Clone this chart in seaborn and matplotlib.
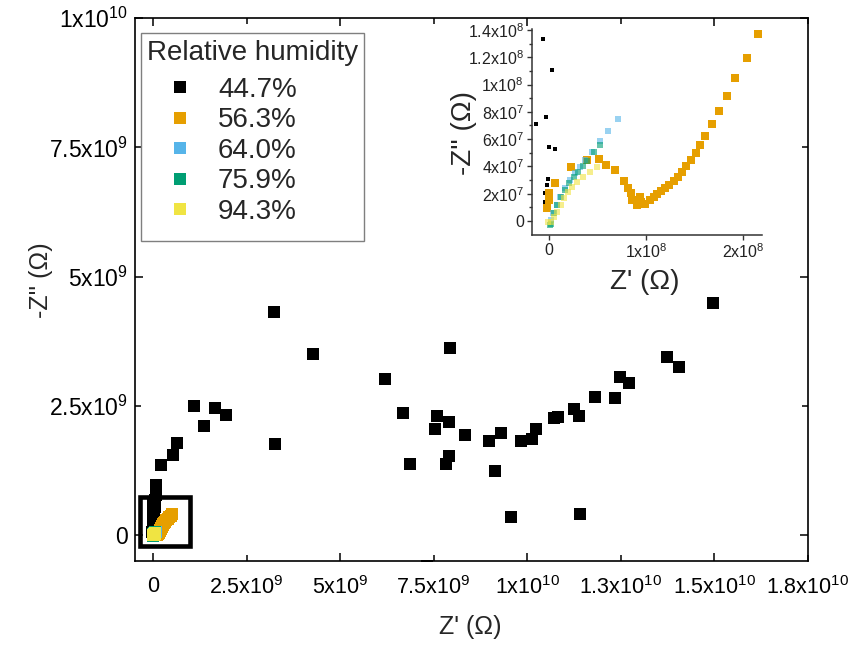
import numpy as np
import pandas as pd
import matplotlib
matplotlib.use("Agg")
import matplotlib.pyplot as plt
import seaborn as sns
from matplotlib.lines import Line2D
from matplotlib.patches import Rectangle
from matplotlib.ticker import FixedLocator, FixedFormatter, NullLocator

# ---------------- data ----------------
labels = ["44.7%", "56.3%", "64.0%", "75.9%", "94.3%"]
colors = ["#000000", "#E69F00", "#56B4E9", "#009E73", "#F0E442"]

# 44.7 % RH (black)
rh447_x = [3.23e9, 1.10e9, 1.66e9, 1.95e9, 1.36e9, 3.26e9, 0.64e9, 0.53e9, 0.22e9, 0.075e9,
           4.29e9, 7.95e9, 6.21e9, 6.67e9, 7.58e9, 7.90e9, 7.55e9, 8.33e9, 7.90e9, 6.88e9, 7.82e9,
           14.96e9, 13.73e9, 14.05e9, 12.47e9, 12.71e9, 11.81e9, 12.34e9, 11.25e9, 11.38e9,
           10.72e9, 10.82e9, 10.23e9, 10.12e9, 9.85e9, 9.30e9, 8.98e9, 9.14e9, 9.57e9, 11.41e9, 7.33e9,
           0.08e9, 0.07e9, 0.06e9, 0.0, 0.05e9, 0.01e9, 0.02e9, 0.0, 0.01e9, -0.01e9,
           -0.065e8, 0.027e8, -0.031e8, -0.137e8, 0.0, 0.062e8, -0.014e8, -0.024e8, -0.038e8, -0.041e8]
rh447_y = [4.32e9, 2.51e9, 2.47e9, 2.33e9, 2.12e9, 1.77e9, 1.78e9, 1.56e9, 1.37e9, 0.98e9,
           3.51e9, 3.62e9, 3.02e9, 2.36e9, 2.31e9, 2.19e9, 2.06e9, 1.94e9, 1.53e9, 1.38e9, 1.38e9,
           4.50e9, 3.45e9, 3.25e9, 3.06e9, 2.95e9, 2.68e9, 2.66e9, 2.45e9, 2.31e9,
           2.26e9, 2.28e9, 2.06e9, 1.86e9, 1.82e9, 1.98e9, 1.82e9, 1.24e9, 0.36e9, 0.41e9, -0.60e9,
           0.88e9, 0.78e9, 0.69e9, 0.62e9, 0.55e9, 0.47e9, 0.38e9, 0.29e9, 0.21e9, 0.16e9,
           13.34e7, 11.07e7, 7.65e7, 7.11e7, 5.42e7, 5.28e7, 3.10e7, 2.66e7, 2.05e7, 1.42e7]

# 56.3 % RH (orange)
rh563_x = [-0.024e8, 0.003e8, 0.003e8, 0.062e8, 0.223e8, 0.394e8, 0.511e8, 0.586e8, 0.679e8,
           0.772e8, 0.809e8, 0.840e8, 0.854e8, 0.936e8, 0.902e8, 0.943e8, 0.991e8, 1.039e8,
           1.080e8, 1.115e8, 1.156e8, 1.193e8, 1.238e8, 1.286e8, 1.327e8, 1.368e8, 1.406e8,
           1.461e8, 1.512e8, 1.560e8, 1.602e8, 1.677e8, 1.746e8, 1.831e8, 1.920e8, 2.034e8,
           2.154e8, 2.28e8, 2.43e8, 2.60e8, 2.80e8, 3.03e8, 3.30e8, 3.60e8, 3.95e8, 4.32e8,
           4.75e8, 5.20e8]
rh563_y = [0.93e7, 1.54e7, 2.03e7, 2.76e7, 3.93e7, 4.47e7, 4.52e7, 4.10e7, 3.74e7,
           2.96e7, 2.39e7, 2.03e7, 1.54e7, 1.78e7, 1.17e7, 1.39e7, 1.22e7, 1.51e7,
           1.73e7, 1.98e7, 2.17e7, 2.42e7, 2.66e7, 2.96e7, 3.25e7, 3.62e7, 4.03e7,
           4.47e7, 5.01e7, 5.57e7, 6.25e7, 7.11e7, 8.09e7, 9.16e7, 10.48e7, 11.97e7,
           13.70e7, 15.5e7, 17.4e7, 19.5e7, 21.7e7, 24.0e7, 26.5e7, 29.2e7, 32.0e7, 35.0e7,
           38.3e7, 41.8e7]

# 64.0 % RH (blue)
rh640_x = [0.017e8, 0.045e8, 0.079e8, 0.113e8, 0.165e8, 0.216e8, 0.267e8, 0.319e8,
           0.375e8, 0.439e8, 0.521e8, 0.604e8, 0.713e8]
rh640_y = [0.07e7, 0.56e7, 1.17e7, 1.78e7, 2.40e7, 3.00e7, 3.49e7, 3.98e7,
           4.50e7, 5.08e7, 5.86e7, 6.62e7, 7.45e7]

# 75.9 % RH (green)
rh759_x = [0.010e8, 0.017e8, 0.051e8, 0.086e8, 0.123e8, 0.165e8, 0.209e8, 0.257e8,
           0.302e8, 0.346e8, 0.394e8, 0.463e8, 0.525e8]
rh759_y = [-0.30e7, -0.22e7, 0.56e7, 1.17e7, 1.78e7, 2.27e7, 2.76e7, 3.25e7,
           3.62e7, 4.03e7, 4.42e7, 5.03e7, 5.57e7]

# 94.3 % RH (yellow)
rh943_x = [-0.007e8, 0.017e8, 0.051e8, 0.086e8, 0.120e8, 0.154e8, 0.192e8, 0.233e8,
           0.285e8, 0.346e8, 0.422e8, 0.497e8]
rh943_y = [-0.05e7, -0.05e7, 0.27e7, 0.68e7, 1.17e7, 1.66e7, 2.15e7, 2.52e7,
           2.88e7, 3.25e7, 3.62e7, 3.93e7]

series_x = [rh447_x, rh563_x, rh640_x, rh759_x, rh943_x]
series_y = [rh447_y, rh563_y, rh640_y, rh759_y, rh943_y]

main_xticks = [0, 2.5e9, 5e9, 7.5e9, 1e10, 1.25e10, 1.5e10, 1.75e10]
main_xticklabels = ["0", "2.5x10$^{9}$", "5x10$^{9}$", "7.5x10$^{9}$", "1x10$^{10}$",
                    "1.3x10$^{10}$", "1.5x10$^{10}$", "1.8x10$^{10}$"]
main_yticks = [0, 2.5e9, 5e9, 7.5e9, 1e10]
main_yticklabels = ["0", "2.5x10$^{9}$", "5x10$^{9}$", "7.5x10$^{9}$", "1x10$^{10}$"]
inset_xticks = [0, 1e8, 2e8]
inset_xticklabels = ["0", "1x10$^{8}$", "2x10$^{8}$"]
inset_yticks = [0, 2e7, 4e7, 6e7, 8e7, 1e8, 1.2e8, 1.4e8]
inset_yticklabels = ["0", "2x10$^{7}$", "4x10$^{7}$", "6x10$^{7}$", "8x10$^{7}$",
                     "1x10$^{8}$", "1.2x10$^{8}$", "1.4x10$^{8}$"]
legend_title = "Relative humidity"

# ---------------- style ----------------
sns.set_theme(style="ticks")
plt.rcParams["font.family"] = ["Liberation Sans", "DejaVu Sans"]
plt.rcParams["mathtext.fontset"] = "custom"
plt.rcParams["mathtext.rm"] = "Liberation Sans"
plt.rcParams["mathtext.it"] = "Liberation Sans:italic"
plt.rcParams["mathtext.bf"] = "Liberation Sans:bold"

W, H = 854, 646
fig = plt.figure(figsize=(W / 100, H / 100), dpi=100)
fig.patch.set_facecolor("white")
ax = fig.add_axes([0.1581, 0.1320, 0.7877, 0.8401])

for xs, ys, c in zip(series_x, series_y, colors):
    sns.scatterplot(x=xs, y=ys, ax=ax, color=c, marker="s", s=75, linewidth=0,
                    legend=False)

ax.add_patch(Rectangle((-0.353e9, -0.211e9), 1.346e9, 0.957e9, fill=False,
                       lw=3.3, ec="black", zorder=10))

ax.set_xlim(-0.48e9, 1.75e10)
ax.set_ylim(-0.49e9, 1.0e10)
ax.set_xlabel("")
ax.set_ylabel("")

ax.xaxis.set_major_locator(FixedLocator(main_xticks[0::2]))
ax.xaxis.set_major_formatter(FixedFormatter(main_xticklabels[0::2]))
ax.xaxis.set_minor_locator(FixedLocator(main_xticks[1::2]))
ax.xaxis.set_minor_formatter(FixedFormatter(main_xticklabels[1::2]))
ax.yaxis.set_major_locator(FixedLocator(main_yticks[0::2]))
ax.yaxis.set_major_formatter(FixedFormatter(main_yticklabels[0::2]))
ax.yaxis.set_minor_locator(FixedLocator(main_yticks[1::2]))
ax.yaxis.set_minor_formatter(FixedFormatter(main_yticklabels[1::2]))

ax.tick_params(which="both", direction="in", top=True, right=True, width=1.1,
               color="black")
ax.tick_params(which="major", length=6)
ax.tick_params(which="minor", length=4)
ax.tick_params(axis="x", which="both", labelsize=15.5, pad=11, labelcolor="black")
ax.tick_params(axis="y", which="both", labelsize=16.5, pad=5, labelcolor="black")
for sp in ax.spines.values():
    sp.set_visible(True)
    sp.set_linewidth(1.2)
    sp.set_color("black")

fig.text(470 / W, 1 - 627 / H, "Z' (\u03a9)", fontsize=18, ha="center", va="center")
fig.text(41 / W, 1 - 280 / H, "-Z'' (\u03a9)", fontsize=18, ha="center", va="center",
         rotation=90)

# legend: frame + title + entries (all drawn inside the main axes, above the data)
ax.add_patch(Rectangle((141 / W, 1 - 241 / H), (364 - 141) / W, (241 - 32.7) / H,
                       transform=fig.transFigure, fill=True, fc="white",
                       ec="#7f7f7f", lw=1.0, zorder=20, clip_on=False))
ax.text(253 / W, 1 - 53 / H, legend_title, fontsize=20, ha="center", va="center",
        transform=fig.transFigure, zorder=21)
handles = [Line2D([], [], marker="s", ls="", color=c, markersize=8.6, markeredgewidth=0)
           for c in colors]
leg = ax.legend(handles, labels, loc="upper left",
                bbox_to_anchor=(165.8 / W, 1 - 77 / H), bbox_transform=fig.transFigure,
                borderaxespad=0, borderpad=0, fontsize=20, frameon=False,
                handlelength=1.0, handletextpad=0.88, labelspacing=0.16)
leg.set_zorder(22)

# ---------------- inset ----------------
axin = fig.add_axes([0.6226, 0.6362, 0.2693, 0.3189])
axin.patch.set_alpha(0)
inset_sizes = [8.3, 29, 25, 22, 25]
inset_alpha = [1, 1, 0.6, 0.6, 0.6]
for xs, ys, c, s, a in zip(series_x, series_y, colors, inset_sizes, inset_alpha):
    sns.scatterplot(x=xs, y=ys, ax=axin, color=c, marker="s", s=s, linewidth=0,
                    alpha=a, legend=False)
axin.set_xlim(-0.178e8, 2.19e8)
axin.set_ylim(-1.03e7, 1.407e8)
axin.set_xlabel("")
axin.set_ylabel("")
axin.spines["top"].set_visible(False)
axin.spines["right"].set_visible(False)
for sp in ["left", "bottom"]:
    axin.spines[sp].set_linewidth(1.1)
    axin.spines[sp].set_color("#333333")
axin.xaxis.set_major_locator(FixedLocator(inset_xticks))
axin.xaxis.set_major_formatter(FixedFormatter(inset_xticklabels))
axin.xaxis.set_minor_locator(NullLocator())
axin.yaxis.set_major_locator(FixedLocator(inset_yticks))
axin.yaxis.set_major_formatter(FixedFormatter(inset_yticklabels))
axin.yaxis.set_minor_locator(FixedLocator([1e7, 3e7, 5e7, 7e7, 9e7, 1.1e8, 1.3e8]))
axin.tick_params(which="both", direction="out", colors="#333333", width=1.0,
                 labelsize=11.5, labelcolor="#222222")
axin.tick_params(which="major", length=3.5, pad=2)
axin.tick_params(which="minor", length=2)
fig.text(645 / W, 1 - 282 / H, "Z' (\u03a9)", fontsize=20, ha="center", va="center")
fig.text(464 / W, 1 - 133 / H, "-Z'' (\u03a9)", fontsize=20, ha="center", va="center",
         rotation=90)

fig.savefig("out.png", dpi=100)
